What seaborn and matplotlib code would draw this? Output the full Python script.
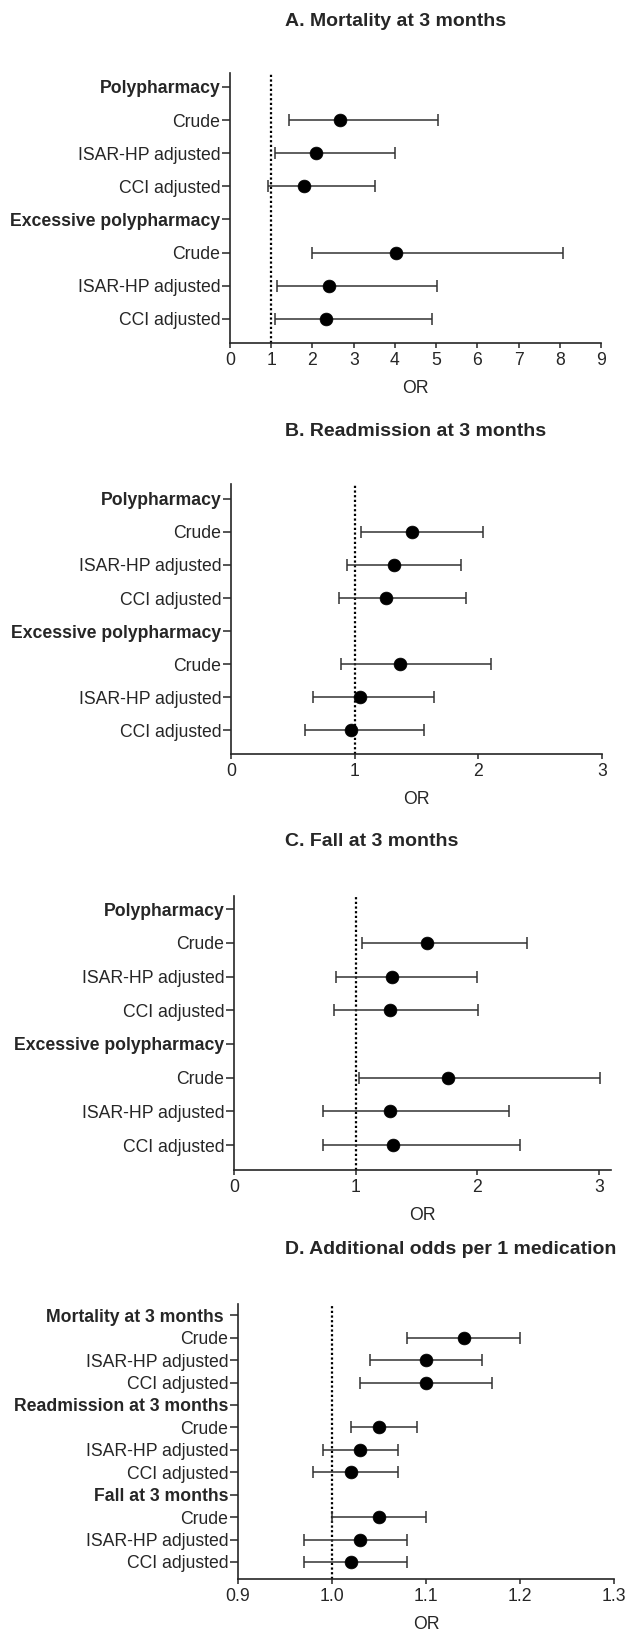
import numpy as np
import pandas as pd
import matplotlib
matplotlib.use("Agg")
import matplotlib.pyplot as plt
import seaborn as sns

# ---- data -------------------------------------------------------------
group_labels = ["Polypharmacy", "Crude", "ISAR-HP adjusted", "CCI adjusted",
                "Excessive polypharmacy", "Crude", "ISAR-HP adjusted", "CCI adjusted"]
group_header = [True, False, False, False, True, False, False, False]

mort_or = [np.nan, 2.67, 2.09, 1.80, np.nan, 4.02, 2.40, 2.32]
mort_lo = [np.nan, 1.43, 1.10, 0.92, np.nan, 1.99, 1.15, 1.10]
mort_hi = [np.nan, 5.04, 4.01, 3.52, np.nan, 8.09, 5.01, 4.89]

readm_or = [np.nan, 1.46, 1.32, 1.25, np.nan, 1.37, 1.04, 0.97]
readm_lo = [np.nan, 1.05, 0.94, 0.87, np.nan, 0.89, 0.66, 0.60]
readm_hi = [np.nan, 2.04, 1.86, 1.90, np.nan, 2.10, 1.64, 1.56]

fall_or = [np.nan, 1.59, 1.30, 1.28, np.nan, 1.76, 1.28, 1.31]
fall_lo = [np.nan, 1.05, 0.84, 0.82, np.nan, 1.03, 0.73, 0.73]
fall_hi = [np.nan, 2.41, 2.00, 2.01, np.nan, 3.01, 2.26, 2.35]

med_labels = ["Mortality at 3 months ", "Crude", "ISAR-HP adjusted", "CCI adjusted",
              "Readmission at 3 months", "Crude", "ISAR-HP adjusted", "CCI adjusted",
              "Fall at 3 months", "Crude", "ISAR-HP adjusted", "CCI adjusted"]
med_header = [True, False, False, False] * 3
med_or = [np.nan, 1.14, 1.10, 1.10, np.nan, 1.05, 1.03, 1.02, np.nan, 1.05, 1.03, 1.02]
med_lo = [np.nan, 1.08, 1.04, 1.03, np.nan, 1.02, 0.99, 0.98, np.nan, 1.00, 0.97, 0.97]
med_hi = [np.nan, 1.20, 1.16, 1.17, np.nan, 1.09, 1.07, 1.07, np.nan, 1.10, 1.08, 1.08]

titles = ["A. Mortality at 3 months", "B. Readmission at 3 months",
          "C. Fall at 3 months", "D. Additional odds per 1 medication"]
xticks_a = [0, 1, 2, 3, 4, 5, 6, 7, 8, 9]
xticks_b = [0, 1, 2, 3]
xticks_d = [0.9, 1.0, 1.1, 1.2, 1.3]

# ---- style ------------------------------------------------------------
sns.set_style("ticks")
plt.rcParams["font.family"] = ["Liberation Sans", "DejaVu Sans"]
plt.rcParams["axes.linewidth"] = 1.2
FS = 12.7

W, H = 628, 1634
fig = plt.figure(figsize=(W / 100, H / 100), dpi=100)


def px_axes(left, right, top, bottom):
    return fig.add_axes([left / W, 1 - bottom / H, (right - left) / W, (bottom - top) / H])


def forest(ax, labels, header, est, lo, hi, xlim, xticks, pad_top, pad_bot, fmt="{:g}"):
    n = len(labels)
    df = pd.DataFrame({"row": np.arange(n), "est": est, "lo": lo, "hi": hi})
    d = df.dropna()
    ax.errorbar(d["est"], d["row"], xerr=[d["est"] - d["lo"], d["hi"] - d["est"]],
                fmt="none", ecolor="#333333", elinewidth=1.1, capsize=4.5, capthick=1.1, zorder=2)
    sns.scatterplot(data=d, x="est", y="row", ax=ax, color="black", s=85,
                    edgecolor="black", linewidth=0.5, zorder=3, legend=False)
    ax.axvline(1, color="black", linestyle=(0, (1, 1.1)), lw=1.6, zorder=1)
    ax.set_xlim(*xlim)
    ax.set_ylim(n - 1 + pad_bot, -pad_top)
    ax.set_yticks(range(n))
    ax.set_yticklabels(labels, fontsize=FS)
    for t, h in zip(ax.get_yticklabels(), header):
        if h:
            t.set_fontweight("bold")
    ax.set_xticks(xticks)
    ax.set_xticklabels([fmt.format(v) for v in xticks], fontsize=FS)
    ax.tick_params(axis="y", length=6, width=1.1, pad=1)
    ax.tick_params(axis="x", length=3.5, width=1.1, pad=3)
    ax.set_xlabel("OR", fontsize=FS, labelpad=8)
    ax.set_ylabel("")
    sns.despine(ax=ax)


ax_a = px_axes(230, 601, 73, 343)
forest(ax_a, group_labels, group_header, mort_or, mort_lo, mort_hi,
       (0, 9), xticks_a, 0.42, 0.73)

ax_b = px_axes(231, 602, 484, 754)
forest(ax_b, group_labels, group_header, readm_or, readm_lo, readm_hi,
       (0, 3), xticks_b, 0.45, 0.72)

ax_c = px_axes(234, 611, 896, 1170)
forest(ax_c, group_labels, group_header, fall_or, fall_lo, fall_hi,
       (0, 3.1), xticks_b, 0.39, 0.74)

ax_d = px_axes(238, 614, 1304, 1579)
forest(ax_d, med_labels, med_header, med_or, med_lo, med_hi,
       (0.9, 1.3), xticks_d, 0.5, 0.76, fmt="{:.1f}")

for ttl, ty in zip(titles, [21, 432, 842, 1250]):
    fig.text(285 / W, 1 - ty / H, ttl, ha="left", va="center",
             fontsize=14, fontweight="bold")

fig.savefig("out.png", dpi=100)
